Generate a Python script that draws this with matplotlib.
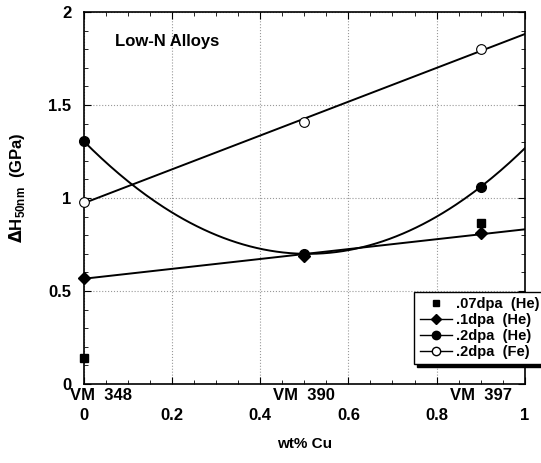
import numpy as np
import matplotlib
matplotlib.use("Agg")
import matplotlib.pyplot as plt
from matplotlib.lines import Line2D

plt.rcParams['font.family'] = ['Liberation Sans', 'DejaVu Sans']
plt.rcParams['font.weight'] = 'bold'

# wt% Cu of the three alloys
cu = [0.0, 0.5, 0.9]
alloys = ["VM  348", "VM  390", "VM  397"]

# hardness change (GPa)
h_07he = [0.14, None, 0.865]
h_1he = [0.57, 0.69, 0.81]
h_2he = [1.305, 0.70, 1.06]
h_2fe = [0.98, 1.41, 1.80]

fig = plt.figure(figsize=(5.41, 4.63), dpi=100)
ax = fig.add_axes([0.155, 0.1706, 0.815, 0.8034])

xs = np.linspace(0, 1, 200)

# fits
p1 = np.polyfit(cu, h_1he, 1)
p2 = np.polyfit(cu, h_2he, 2)
p3 = np.polyfit(cu, h_2fe, 1)
ax.plot(xs, np.polyval(p1, xs), 'k-', lw=1.4)
ax.plot(xs, np.polyval(p2, xs), 'k-', lw=1.4)
ax.plot(xs, np.polyval(p3, xs), 'k-', lw=1.4)

x07 = [c for c, v in zip(cu, h_07he) if v is not None]
y07 = [v for v in h_07he if v is not None]
ax.plot(x07, y07, 's', color='k', ms=6, clip_on=False, zorder=5)
ax.plot(cu, h_1he, 'D', color='k', ms=6, clip_on=False, zorder=5)
ax.plot(cu, h_2he, 'o', color='k', ms=7, clip_on=False, zorder=5)
ax.plot(cu, h_2fe, 'o', mfc='white', mec='k', mew=0.8, ms=7, clip_on=False, zorder=5)

ax.set_xlim(0, 1)
ax.set_ylim(0, 2)
ax.set_xticks([0, 0.2, 0.4, 0.6, 0.8, 1])
ax.set_xticklabels(['0', '0.2', '0.4', '0.6', '0.8', '1'])
ax.set_yticks([0, 0.5, 1, 1.5, 2])
ax.set_yticklabels(['0', '0.5', '1', '1.5', '2'])
ax.set_xticks(np.arange(0, 1.001, 0.05), minor=True)
ax.set_yticks(np.arange(0, 2.001, 0.1), minor=True)
ax.tick_params(which='both', direction='in', top=True, right=True)
ax.tick_params(which='major', length=5, labelsize=12)
ax.tick_params(which='minor', length=3)
ax.tick_params(axis='x', which='major', pad=17)
ax.tick_params(axis='y', which='major', pad=9)
for lab in ax.get_xticklabels() + ax.get_yticklabels():
    lab.set_fontweight('bold')

ax.grid(True, which='major', linestyle=':', color='#999999', lw=0.8)
for s in ax.spines.values():
    s.set_linewidth(1.2)

for c, name in zip(cu, alloys):
    xx = c + 0.04 if c == 0 else c
    ax.text(xx, -0.01, name, ha='center', va='top', fontsize=12,
            fontweight='bold', transform=ax.get_xaxis_transform())

ax.text(0.07, 1.84, "Low-N Alloys", fontsize=12, fontweight='bold', va='center')

ax.set_xlabel("wt% Cu", fontsize=11, fontweight='bold', labelpad=10)
ax.set_ylabel(r"$\Delta$H$_{\mathregular{50nm}}$  (GPa)", fontsize=12, fontweight='bold')
ax.yaxis.set_label_coords(-0.13, 0.527)

handles = [
    Line2D([], [], ls='none', marker='s', color='k', ms=5),
    Line2D([], [], ls='-', lw=1, marker='D', color='k', ms=5),
    Line2D([], [], ls='-', lw=1, marker='o', color='k', ms=6),
    Line2D([], [], ls='-', lw=1, marker='o', mfc='white', mec='k', color='k', ms=6),
]
labels = [".07dpa  (He)", ".1dpa  (He)", ".2dpa  (He)", ".2dpa  (Fe)"]
leg = fig.legend(handles, labels, loc='lower left', bbox_to_anchor=(0.752, 0.197),
                 prop={'weight': 'bold', 'size': 10.5}, frameon=True, fancybox=False,
                 shadow={'color': 'k', 'alpha': 1.0}, handlelength=2.2, handletextpad=0.3,
                 labelspacing=0.12, borderpad=0.4, edgecolor='k')
leg.get_frame().set_linewidth(1.0)

fig.savefig("out.png", dpi=100)
